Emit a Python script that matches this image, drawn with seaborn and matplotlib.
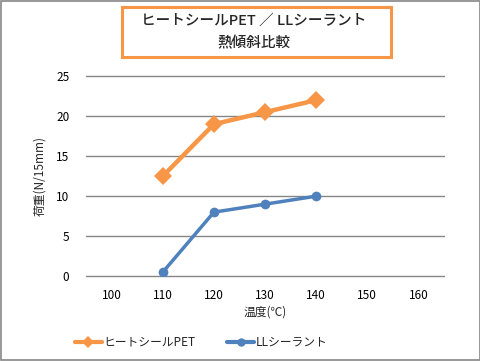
import numpy as np
import pandas as pd
import matplotlib
matplotlib.use("Agg")
import matplotlib.pyplot as plt
import seaborn as sns
from matplotlib.patches import Rectangle
from matplotlib.lines import Line2D

# データ
temps = [110, 120, 130, 140]
pet_vals = [12.5, 19, 20.5, 22]
ll_vals = [0.5, 8, 9, 10]
series_names = ["ヒートシールPET", "LLシーラント"]
x_ticks = [100, 110, 120, 130, 140, 150, 160]
y_ticks = [0, 5, 10, 15, 20, 25]

df = pd.DataFrame({
    "temp": temps * 2,
    "load": pet_vals + ll_vals,
    "series": [series_names[0]] * 4 + [series_names[1]] * 4,
})

sns.set_theme(style="white")
plt.rcParams['font.family'] = ['Noto Sans CJK JP', 'DejaVu Sans']

orange = "#F79646"
blue = "#4F81BD"
grid_c = "#868686"

fig = plt.figure(figsize=(4.81, 3.61), dpi=100)
ax = fig.add_axes([0.179, 0.235, 0.744, 0.554])

sns.lineplot(data=df, x="temp", y="load", hue="series", style="series",
             palette=[orange, blue], markers=["D", "o"], dashes=False,
             markersize=7, linewidth=2.5, markeredgewidth=0, ax=ax, legend=False)
ax.lines[0].set_markersize(9.5)
ax.lines[0].set_linewidth(3.2)

ax.set_xlim(95, 165)
ax.set_ylim(0, 25)
ax.set_xticks(x_ticks)
ax.set_yticks(y_ticks)
ax.tick_params(axis='both', length=0, labelsize=8.5, colors="#000000", pad=9)
ax.tick_params(axis='y', pad=12)
for yt in y_ticks:
    ax.axhline(yt, color=grid_c, linewidth=1, zorder=0, clip_on=False)
for s in ax.spines.values():
    s.set_visible(False)

ax.set_xlabel("温度(℃)", fontsize=8.5, labelpad=3)
ax.set_ylabel("荷重(N/15mm)", fontsize=8.5, labelpad=7)

# 凡例
handles = [Line2D([], [], color=orange, lw=3, marker="D", ms=6, mew=0),
           Line2D([], [], color=blue, lw=3, marker="o", ms=6, mew=0)]
fig.legend(handles, series_names, loc="center", bbox_to_anchor=(0.418, 0.052),
           ncol=2, frameon=False, fontsize=8.5, handlelength=2.3,
           handletextpad=0.1, columnspacing=2.7)

# タイトル枠
fig.patches.append(Rectangle((122 / 481, 1 - 57 / 361), 269 / 481, 50 / 361,
                             transform=fig.transFigure, fill=False,
                             edgecolor=orange, linewidth=2.2))
fig.text(254 / 481, 1 - 21 / 361, "ヒートシールPET ／ LLシーラント",
         ha="center", va="center", fontsize=10.5, fontweight="medium")
fig.text(254 / 481, 1 - 43 / 361, "熱傾斜比較",
         ha="center", va="center", fontsize=10.5, fontweight="medium")

# 外枠
fig.patches.append(Rectangle((0.002, 0.003), 0.995, 0.994,
                             transform=fig.transFigure, fill=False,
                             edgecolor=grid_c, linewidth=1.2))

fig.savefig("out.png", dpi=100)
